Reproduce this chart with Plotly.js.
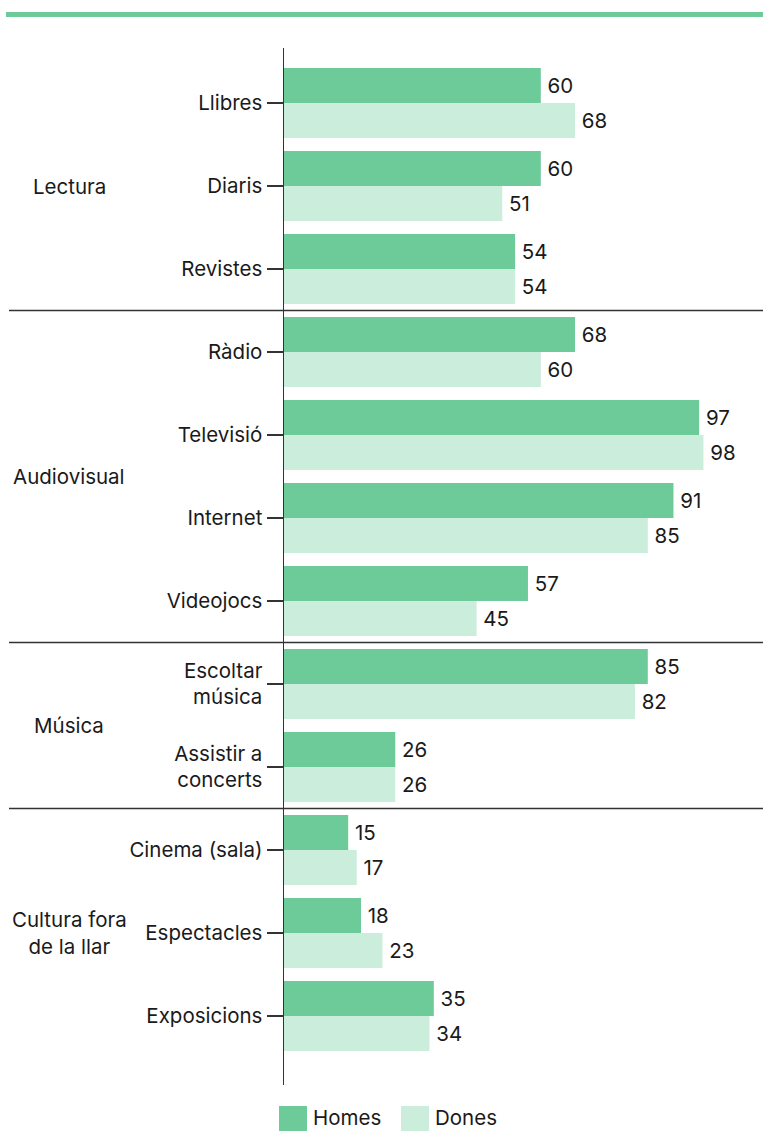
<!DOCTYPE html>
<html><head><meta charset="utf-8">
<script src="https://cdn.plot.ly/plotly-3.0.1.min.js"></script>
<style>html,body{margin:0;padding:0;background:#fff;}#chart{width:763px;height:1131px;}</style>
</head><body><div id="chart"></div>
<script>
const categories = ["Llibres","Diaris","Revistes","Ràdio","Televisió","Internet","Videojocs","Escoltar<br>música","Assistir a<br>concerts","Cinema (sala)","Espectacles","Exposicions"];
const homes = [60,60,54,68,97,91,57,85,26,15,18,35];
const dones = [68,51,54,60,98,85,45,82,26,17,23,34];
const groups = ["Lectura","Audiovisual","Música","Cultura fora<br>de la llar"];
const groupCenters = [1,4.5,7.5,10];
const groupBreaks = [2.5,6.5,8.5];
const seriesNames = ["Homes","Dones"];
const colors = ["#6ccb99","#cbeddc"];

const FONT = "Inter, 'Noto Sans', sans-serif";
const FS = 20.5;
const W = 763, H = 1131, ML = 284, MR = 51, MT = 48, MB = 46;
const PW = W-ML-MR, PH = H-MT-MB;
const px = x => (x-ML)/PW;      // pixel -> paper x
const py = y => (H-MB-y)/PH;    // pixel -> paper y

const traces = [homes, dones].map((v,i)=>({
  type:"bar", orientation:"h", name:seriesNames[i],
  y:categories, x:v, text:v.map(String), textposition:"outside",
  texttemplate:"\u2009%{text}",
  textfont:{family:FONT,size:FS,color:"#1a1a1a"},
  marker:{color:colors[i]}, cliponaxis:false, hoverinfo:"x+name", showlegend:false
}));

const shapes = [];
const annotations = [];
// top rule
shapes.push({type:"line",xref:"paper",yref:"paper",x0:px(6),x1:px(763),y0:py(14.5),y1:py(14.5),line:{color:"#6ccb99",width:5}});
groupBreaks.forEach(b=>shapes.push({type:"line",xref:"paper",yref:"y",x0:px(9),x1:px(763),y0:b,y1:b,line:{color:"#333",width:1.5}}));
groups.forEach((g,i)=>annotations.push({xref:"paper",yref:"y",x:px(69),y:groupCenters[i],text:g,showarrow:false,xanchor:"center",yanchor:"middle",font:{family:FONT,size:FS,color:"#1a1a1a"}}));
// legend
const legX = [279,401];
seriesNames.forEach((n,i)=>{
  shapes.push({type:"rect",xref:"paper",yref:"paper",x0:px(legX[i]),x1:px(legX[i]+28),y0:py(1134),y1:py(1106),fillcolor:colors[i],line:{width:0}});
  annotations.push({xref:"paper",yref:"paper",x:px(legX[i]+33),y:py(1131),text:n,showarrow:false,xanchor:"left",yanchor:"bottom",borderpad:0,font:{family:FONT,size:FS,color:"#1a1a1a"}});
});

const layout = {
  width:W,height:H,margin:{l:ML,r:MR,t:MT,b:MB},
  paper_bgcolor:"#fff",plot_bgcolor:"#fff",
  barmode:"group",bargap:0.157,bargroupgap:0,
  font:{family:FONT,size:FS,color:"#1a1a1a"},
  xaxis:{range:[0,100],visible:false,fixedrange:true},
  yaxis:{type:"category",range:[11+69/83,-55/83],showline:true,linecolor:"#333",linewidth:1.5,
         ticks:"outside",ticklen:16,tickcolor:"#333",tickwidth:1.5,showgrid:false,zeroline:false,
         tickfont:{family:FONT,size:FS,color:"#1a1a1a"}},
  shapes:shapes, annotations:annotations, showlegend:false
};
Plotly.newPlot("chart",traces,layout,{displayModeBar:false,staticPlot:true});
</script></body></html>
